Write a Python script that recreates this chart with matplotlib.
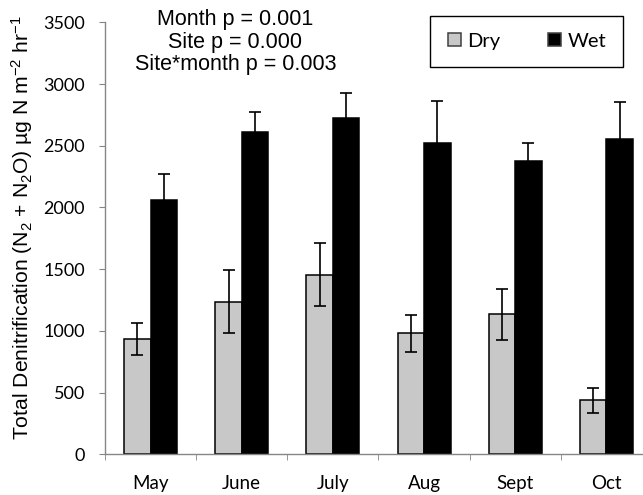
import matplotlib
matplotlib.use('Agg')
import matplotlib.pyplot as plt
import numpy as np

plt.rcParams['mathtext.default'] = 'regular'

# Denitrification by month and site (mean +/- SE)
months = ['May', 'June', 'July', 'Aug', 'Sept', 'Oct']
dry = [935, 1235, 1455, 980, 1135, 437]
dry_se = [130, 255, 255, 150, 205, 100]
wet = [2060, 2613, 2727, 2519, 2376, 2557]
wet_se = [211, 157, 197, 346, 148, 300]
yticks = [0, 500, 1000, 1500, 2000, 2500, 3000, 3500]

axis_gray = '#868686'
tick_font = 'Lato'
text_font = 'Liberation Sans'

fig = plt.figure(figsize=(6.43, 4.95), dpi=100)
ax = fig.add_axes([105 / 643, 40.7 / 495, 547 / 643, 432 / 495])

x = np.arange(len(months))
w = 0.29
err_kw = dict(ecolor='black', elinewidth=1.2, capsize=4, capthick=1.2)
ax.bar(x - w / 2, dry, w, yerr=dry_se, color='#c8c8c8', edgecolor='black',
       linewidth=1.1, label='Dry', error_kw=err_kw)
ax.bar(x + w / 2, wet, w, yerr=wet_se, color='black', edgecolor='black',
       linewidth=1.1, label='Wet', error_kw=err_kw)

ax.set_xlim(-0.5, len(months) - 0.5)
ax.set_ylim(0, 3500)
ax.set_yticks(yticks)
ax.set_yticklabels([str(v) for v in yticks], fontfamily=tick_font, fontsize=13)
ax.set_xticks(x)
ax.set_xticklabels(months, fontfamily=tick_font, fontsize=13.5)
ax.set_xticks(np.arange(len(months) + 1) - 0.5, minor=True)

for side in ['top', 'right']:
    ax.spines[side].set_visible(False)
for side in ['left', 'bottom']:
    ax.spines[side].set_color(axis_gray)
    ax.spines[side].set_linewidth(1.0)

ax.tick_params(axis='y', direction='out', length=4.3, color=axis_gray, pad=10)
ax.tick_params(axis='x', which='major', length=0, pad=15)
ax.tick_params(axis='x', which='minor', direction='out', length=4.3, color=axis_gray)

fig.text(22 / 643, 1 - 228 / 495,
         'Total Denitrification (N$_2$ + N$_2$O) µg N m$^{-2}$ hr$^{-1}$',
         rotation=90, ha='center', va='center', fontfamily=text_font, fontsize=15.2)

fig.text(235.5 / 643, 1 - 9 / 495,
         'Month p = 0.001\nSite p = 0.000\nSite*month p = 0.003',
         ha='center', va='top', fontfamily=text_font, fontsize=15.5,
         linespacing=1.1, multialignment='center')

leg = ax.legend(loc='upper right', bbox_to_anchor=(623 / 643, 1 - 15.7 / 495),
                bbox_transform=fig.transFigure, ncol=2, frameon=True,
                fancybox=False, edgecolor='black', framealpha=1,
                handlelength=0.65, handleheight=0.65, handletextpad=0.3,
                columnspacing=2.4, borderpad=0.85, borderaxespad=0,
                prop=dict(family=tick_font, size=14.5))
leg.get_frame().set_linewidth(1.0)
for h in leg.legend_handles:
    h.set_edgecolor('#404040')

fig.savefig('out.png', dpi=100)
